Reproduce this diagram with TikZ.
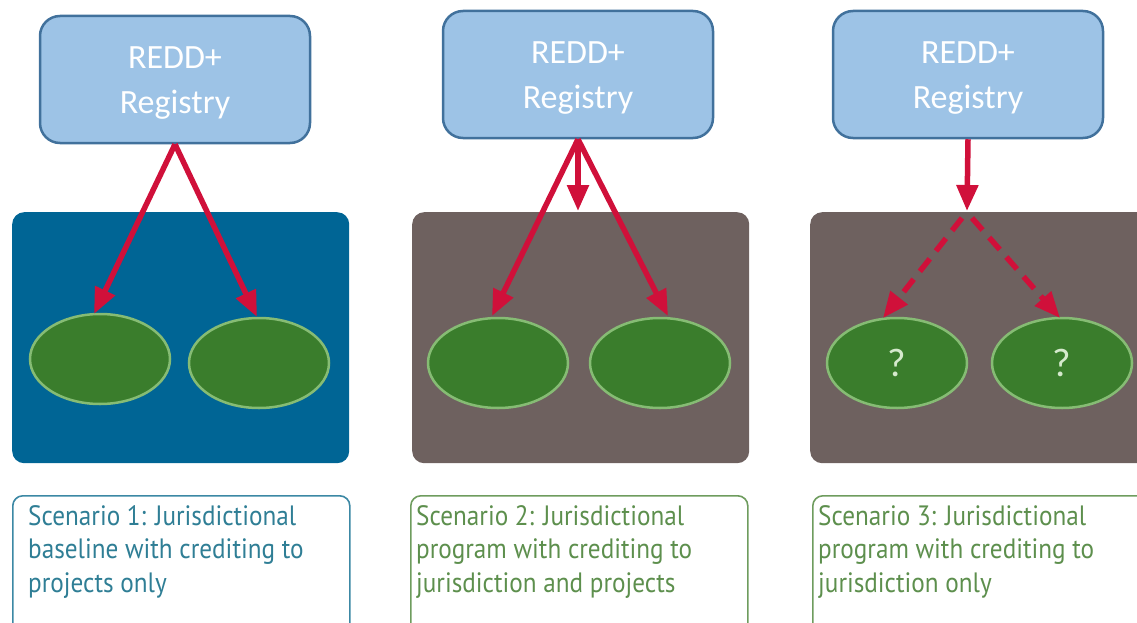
\documentclass[tikz,border=0pt]{standalone}
\usepackage{fontspec}
\setmainfont{Carlito}
\newfontfamily\scenfont{PT Sans}
\usetikzlibrary{arrows.meta,shapes.geometric,calc}
\definecolor{regfill}{HTML}{9DC3E6}
\definecolor{regdraw}{HTML}{41719C}
\definecolor{panelblue}{HTML}{006595}
\definecolor{panelbrown}{HTML}{6E615F}
\definecolor{leaf}{HTML}{3A7D2C}
\definecolor{leafrim}{HTML}{86BC74}
\definecolor{arrowred}{HTML}{D0103A}
\definecolor{tealtext}{HTML}{2F7E95}
\definecolor{tealdraw}{HTML}{3C88A4}
\definecolor{greentext}{HTML}{5D8F4D}
\definecolor{greendraw}{HTML}{6E9C5E}
\definecolor{qmark}{HTML}{D5E9CD}
\tikzset{
  registry/.style={draw=regdraw, line width=2.5pt, fill=regfill, rounded corners=20pt,
    minimum width=270pt, minimum height=127pt},
  regtext/.style={text=white, align=center, font=\fontsize{34}{45}\selectfont, inner sep=0pt},
  panel/.style={rounded corners=12pt, minimum width=337pt, minimum height=251pt, inner sep=0pt},
  leafnode/.style={ellipse, fill=leaf, draw=leafrim, line width=2.5pt,
    minimum width=140pt, minimum height=90pt, text=qmark, font=\fontsize{40}{44}\selectfont},
  redarrow/.style={draw=arrowred, line width=5.5pt, -{Triangle[width=21pt,length=26pt]}},
  dasharrow/.style={redarrow, dash pattern=on 16pt off 10pt},
  scenbox/.style={rounded corners=10pt, line width=1.6pt, minimum width=337pt, minimum height=140pt,
    anchor=north west},
  scentext/.style={anchor=north west, align=left, inner sep=0pt, xscale=0.9, transform shape,
    font=\scenfont\fontsize{28}{33.5}\selectfont}
}
\begin{document}
\begin{tikzpicture}[x=1pt,y=-1pt]
\useasboundingbox (0,0) rectangle (1137,623);
% panels
\node[panel, fill=panelblue, anchor=north west] (p1) at (12,212) {};
\node[panel, fill=panelbrown, anchor=north west] (p2) at (412,212) {};
\node[panel, fill=panelbrown, anchor=north west, minimum width=360pt] (p3) at (810,212) {};
% registries
\node[registry] (r1) at (175,79.5) {};
\node[registry] (r2) at (578,74.5) {};
\node[registry] (r3) at (968,74.5) {};
\node[regtext] (l1) at ($(r1.center)+(0,4)$) {REDD+\\Registry};
\node[regtext] (l2) at ($(r2.center)+(0,4)$) {REDD+\\Registry};
\node[regtext] (l3) at ($(r3.center)+(0,4)$) {REDD+\\Registry};
% leaves
\node[leafnode] (e11) at (100,359) {};
\node[leafnode] (e12) at (259,363) {};
\node[leafnode] (e21) at (498,363) {};
\node[leafnode] (e22) at (660,363) {};
\node[leafnode] (e31) at (897,363) {?};
\node[leafnode] (e32) at (1062,363) {?};
% arrow targets
\coordinate (t11) at (94,314);
\coordinate (t12) at (257,317);
\coordinate (t21) at (492,316);
\coordinate (t22) at (668,316);
\coordinate (m2) at (578,211);
\coordinate (m3) at (967,211);
\coordinate (s31) at (962,218);
\coordinate (s32) at (972,218);
\coordinate (t31) at (883,318);
\coordinate (t32) at (1060,318);
% arrows
\draw[redarrow] (r1.south) -- (t11);
\draw[redarrow] (r1.south) -- (t12);
\draw[redarrow] (r2.south) -- (t21);
\draw[redarrow] (r2.south) -- (t22);
\draw[redarrow] (r2.south) -- (m2);
\draw[redarrow] (r3.south) -- (m3);
\draw[dasharrow] (s31) -- (t31);
\draw[dasharrow] (s32) -- (t32);
% scenario boxes
\node[scenbox, draw=tealdraw] (b1) at (12,495) {};
\node[scenbox, draw=greendraw] (b2) at (410,495) {};
\node[scenbox, draw=greendraw, minimum width=360pt] (b3) at (812,495) {};
\node[scentext, text=tealtext] (c1) at (28,505) {Scenario 1: Jurisdictional\\baseline with crediting to\\projects only};
\node[scentext, text=greentext] (c2) at (416,505) {Scenario 2: Jurisdictional\\program with crediting to\\jurisdiction and projects};
\node[scentext, text=greentext] (c3) at (818,505) {Scenario 3: Jurisdictional\\program with crediting to\\jurisdiction only};
\end{tikzpicture}
\end{document}
